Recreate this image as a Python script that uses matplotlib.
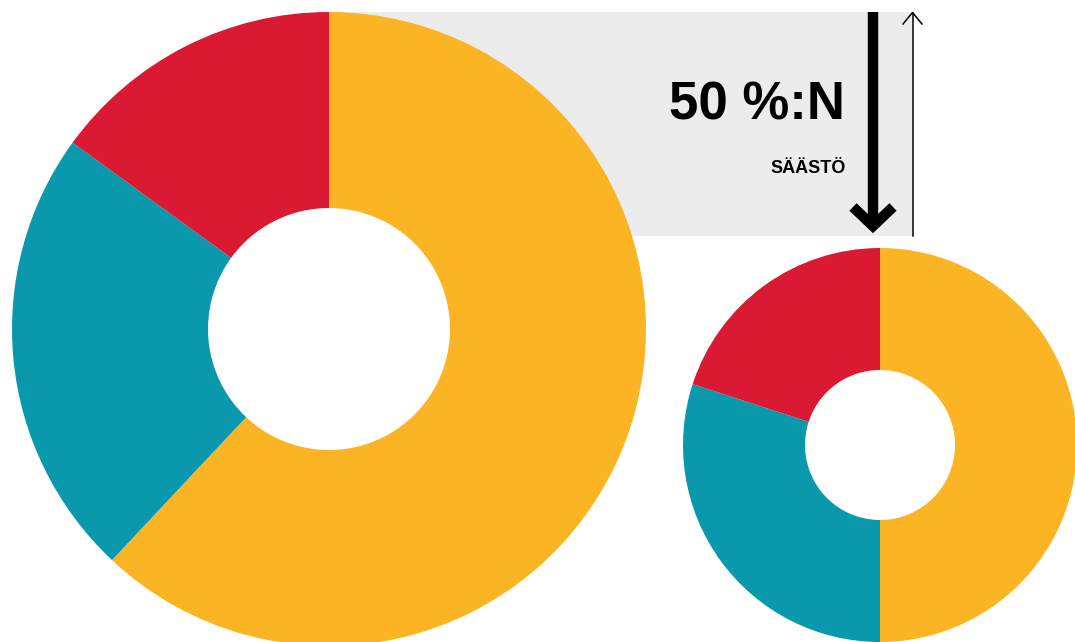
import matplotlib
matplotlib.use("Agg")
import matplotlib.pyplot as plt
from matplotlib.patches import Rectangle, Circle

# Data
segments = ["Keltainen", "Turkoosi", "Punainen"]
before_values = [62, 23, 15]
after_values = [50, 30, 20]
headline = "50 %:N"
subline = "SÄÄSTÖ"

colors = ["#FBB424", "#0A98AC", "#D91A32"]
W, H = 1075, 642

fig = plt.figure(figsize=(W / 100, H / 100), dpi=100)
ax = fig.add_axes([0, 0, 1, 1])

def Y(py):
    return H - py

# gray box
ax.add_patch(Rectangle((330, Y(236)), 912 - 330, 236 - 12, facecolor="#ECECEC",
                       edgecolor="none", zorder=0))
# white hole of big donut over the box
ax.add_patch(Circle((329, Y(329)), 121, facecolor="white", edgecolor="none", zorder=1))

# big donut
ax.pie(before_values, colors=colors, startangle=90, counterclock=False,
       center=(329, Y(329)), radius=317, frame=True,
       wedgeprops=dict(width=317 - 121, linewidth=0, zorder=2))
# small donut
ax.pie(after_values, colors=colors, startangle=90, counterclock=False,
       center=(880, Y(445)), radius=197, frame=True,
       wedgeprops=dict(width=197 - 75, linewidth=0, zorder=2))

# thick down arrow
ax.plot([873, 873], [Y(12), Y(224)], color="black", lw=7.5,
        solid_capstyle="butt", zorder=3)
ax.plot([853, 873, 893], [Y(207), Y(226), Y(207)], color="black", lw=7.5,
        solid_joinstyle="miter", solid_capstyle="butt", zorder=3)

# thin up arrow
ax.plot([912.5, 912.5], [Y(236), Y(13)], color="black", lw=1.1, zorder=3)
ax.plot([903, 912.5, 922], [Y(24), Y(12.5), Y(24)], color="black", lw=1.1,
        solid_joinstyle="miter", zorder=3)

font = ["Liberation Sans", "DejaVu Sans"]
ax.text(845, Y(120), headline, ha="right", va="baseline", fontsize=38,
        fontweight="bold", family=font, color="black", zorder=4)
ax.text(846, Y(173), subline, ha="right", va="baseline", fontsize=13,
        fontweight="bold", family=font, color="black", zorder=4)

ax.set_xlim(0, W)
ax.set_ylim(0, H)
ax.set_aspect("auto")
ax.axis("off")

fig.savefig("out.png", dpi=100, facecolor="white")
